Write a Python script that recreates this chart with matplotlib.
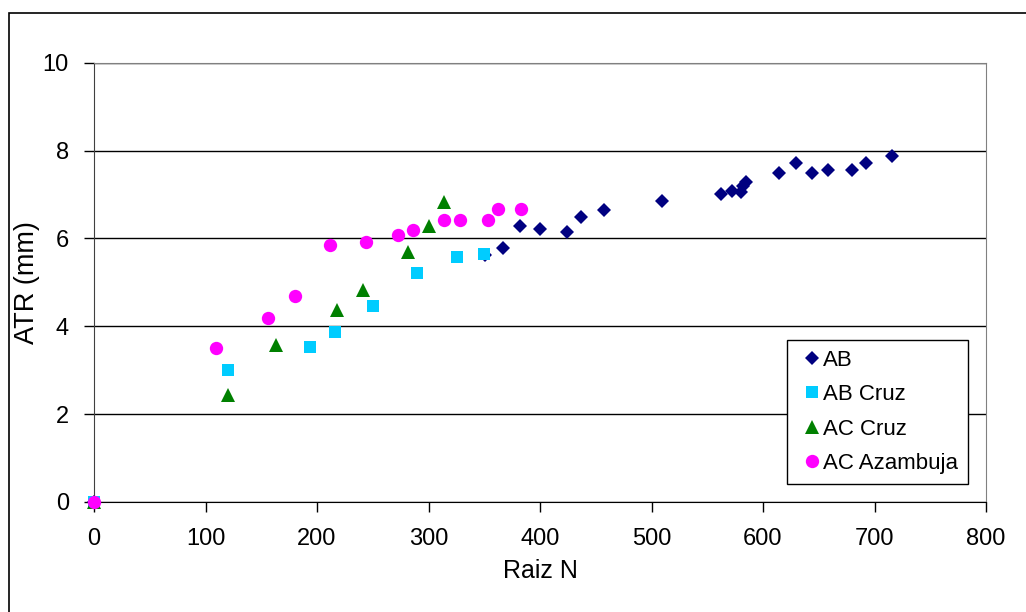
import matplotlib
matplotlib.use("Agg")
import matplotlib.pyplot as plt
from matplotlib.patches import Rectangle

plt.rcParams['font.family'] = ['Liberation Sans', 'DejaVu Sans']

# AB (diamonds)
ab_x = [0, 351, 367, 382, 400, 424, 437, 457, 509, 562, 572, 580, 582, 585,
        614, 630, 644, 658, 680, 692, 716]
ab_y = [0, 5.62, 5.79, 6.29, 6.21, 6.14, 6.48, 6.65, 6.85, 7.01, 7.09, 7.06,
        7.19, 7.29, 7.48, 7.72, 7.48, 7.56, 7.56, 7.72, 7.88]

# AB Cruz (squares)
abc_x = [0, 120, 194, 216, 250, 290, 326, 350]
abc_y = [0, 3.0, 3.53, 3.86, 4.46, 5.21, 5.57, 5.64]

# AC Cruz (triangles)
acc_x = [0, 120, 163, 218, 241, 282, 300, 314]
acc_y = [0, 2.44, 3.57, 4.36, 4.83, 5.68, 6.28, 6.84]

# AC Azambuja (circles)
aca_x = [0, 109, 156, 180, 212, 244, 273, 286, 314, 328, 353, 362, 383]
aca_y = [0, 3.51, 4.18, 4.70, 5.84, 5.92, 6.08, 6.20, 6.43, 6.43, 6.43,
         6.67, 6.67]

fig = plt.figure(figsize=(10.26, 6.12), dpi=100)
ax = fig.add_axes([94/1026, 1 - 502/612, 892/1026, 439.3/612])

ax.plot(ab_x, ab_y, 'D', color='#000080', ms=7.3, mew=0, label='AB', clip_on=False, zorder=3)
ax.plot(abc_x, abc_y, 's', color='#00CCFF', ms=9, mew=0, label='AB Cruz', clip_on=False, zorder=3)
ax.plot(acc_x, acc_y, '^', color='#008000', ms=10.5, mew=0, label='AC Cruz', clip_on=False, zorder=3)
ax.plot(aca_x, aca_y, 'o', color='#FF00FF', ms=9.6, mew=0, label='AC Azambuja', clip_on=False, zorder=3)

ax.set_xlim(0, 800)
ax.set_ylim(0, 10)
ax.set_xticks(range(0, 801, 100))
ax.set_yticks(range(0, 11, 2))
ax.yaxis.grid(True, color='black', lw=1)
ax.set_axisbelow(True)
for s in ['top', 'right']:
    ax.spines[s].set_color('#808080')
ax.spines['left'].set_color('#404040')
ax.spines['bottom'].set_color('black')
ax.tick_params(direction='out', length=7, width=1, labelsize=17)
ax.tick_params(axis='x', pad=12)
ax.tick_params(axis='y', pad=11)

ax.set_xlabel('Raiz N', fontsize=18, labelpad=6)
ax.set_ylabel('ATR (mm)', fontsize=19.5, labelpad=2)

leg = ax.legend(loc='upper left', bbox_to_anchor=(0.7766, 0.369), fontsize=16,
                frameon=True, fancybox=False, edgecolor='black', framealpha=1,
                handletextpad=-0.22, handlelength=1.4, labelspacing=0.6,
                borderpad=0.45, borderaxespad=0, markerscale=1.0)
leg.get_frame().set_linewidth(1)

# outer chart border
fig.add_artist(Rectangle((8.5/1026, -0.1), 1.2, 1 - 12.5/612 + 0.1,
                         transform=fig.transFigure, fill=False,
                         edgecolor='black', lw=1.2))

fig.savefig('out.png', dpi=100)
